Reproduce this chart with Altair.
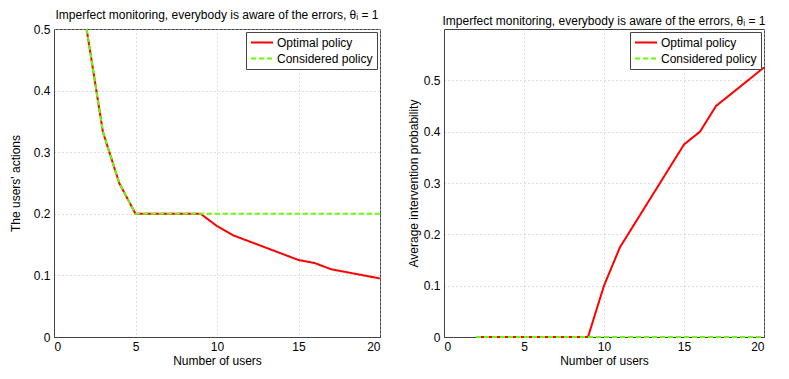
import altair as alt
import pandas as pd

users = list(range(2, 21))
opt_actions = [0.5, 0.333, 0.25, 0.2, 0.2, 0.2, 0.2, 0.2, 0.18, 0.165, 0.155, 0.145, 0.135, 0.125, 0.12, 0.11, 0.105, 0.1, 0.095]
cons_actions = [0.5, 0.333, 0.25] + [0.2] * 16
opt_interv = [0, 0, 0, 0, 0, 0, 0, 0, 0.1, 0.175, 0.225, 0.275, 0.325, 0.375, 0.4, 0.45, 0.475, 0.5, 0.525]
cons_interv = [0.0] * 19

series = ["Optimal policy", "Considered policy"]
colors = ["#ff0000", "#66ff00"]
title_text = "Imperfect monitoring, everybody is aware of the errors, θᵢ = 1"
FONT = "Liberation Sans"
FS = 12


def make_df(opt, cons):
    rows = []
    for x, v in zip(users, opt):
        rows.append({"x": x, "y": v, "s": series[0], "o": 0})
    for x, v in zip(users, cons):
        rows.append({"x": x, "y": v, "s": series[1], "o": 1})
    return pd.DataFrame(rows)


def panel(df, ytitle, ymax, yticks, w, h, ytp):
    base = alt.Chart(df)
    line = base.mark_line(strokeWidth=2).encode(
        x=alt.X("x:Q", scale=alt.Scale(domain=[0, 20], nice=False),
                axis=alt.Axis(values=[0, 5, 10, 15, 20], title="Number of users")),
        y=alt.Y("y:Q", scale=alt.Scale(domain=[0, ymax], nice=False),
                axis=alt.Axis(values=yticks, format="~g", title=ytitle, titlePadding=ytp)),
        color=alt.Color("s:N", scale=alt.Scale(domain=series, range=colors),
                        legend=alt.Legend(title=None, orient="top-right", strokeColor="#444444",
                                          fillColor="white", padding=4, symbolType="M-1,0H3",
                                          symbolStrokeWidth=2, symbolSize=121, labelFontSize=FS,
                                          labelFont=FONT, rowPadding=3, offset=3, cornerRadius=0,
                                          labelColor="black", labelOffset=14)),
        strokeDash=alt.StrokeDash("s:N", scale=alt.Scale(domain=series, range=[[1, 0], [5, 3]]),
                                  legend=alt.Legend(title=None)),
        order="o:Q",
        detail="s:N",
    )
    return line.properties(width=w, height=h, title=alt.TitleParams(title_text, fontSize=FS, font=FONT,
                                                                     fontWeight="normal", offset=1,
                                                                     color="black"))


left = panel(make_df(opt_actions, cons_actions), "The users' actions", 0.5,
             [0, 0.1, 0.2, 0.3, 0.4, 0.5], 326, 308, 11)
right = panel(make_df(opt_interv, cons_interv), "Average intervention probability", 0.6,
              [0, 0.1, 0.2, 0.3, 0.4, 0.5], 320, 308, 3)

chart = alt.hconcat(left, right, spacing=21).resolve_scale(
    color="independent", strokeDash="independent"
).resolve_legend(
    color="independent", strokeDash="independent"
).configure(background="white", padding=0).configure_view(
    stroke="#444444", strokeWidth=1
).configure_axis(
    grid=True, gridDash=[1, 3], gridColor="#bbbbbb", gridWidth=1,
    domainColor="#444444", ticks=False,
    labelFont=FONT, titleFont=FONT, labelFontSize=FS, titleFontSize=FS,
    labelColor="black", titleColor="black", titleFontWeight="normal", labelPadding=4, titlePadding=0,
).configure_axisX(titlePadding=3)

chart.save("out.html", embed_options={"renderer": "svg", "actions": False})
